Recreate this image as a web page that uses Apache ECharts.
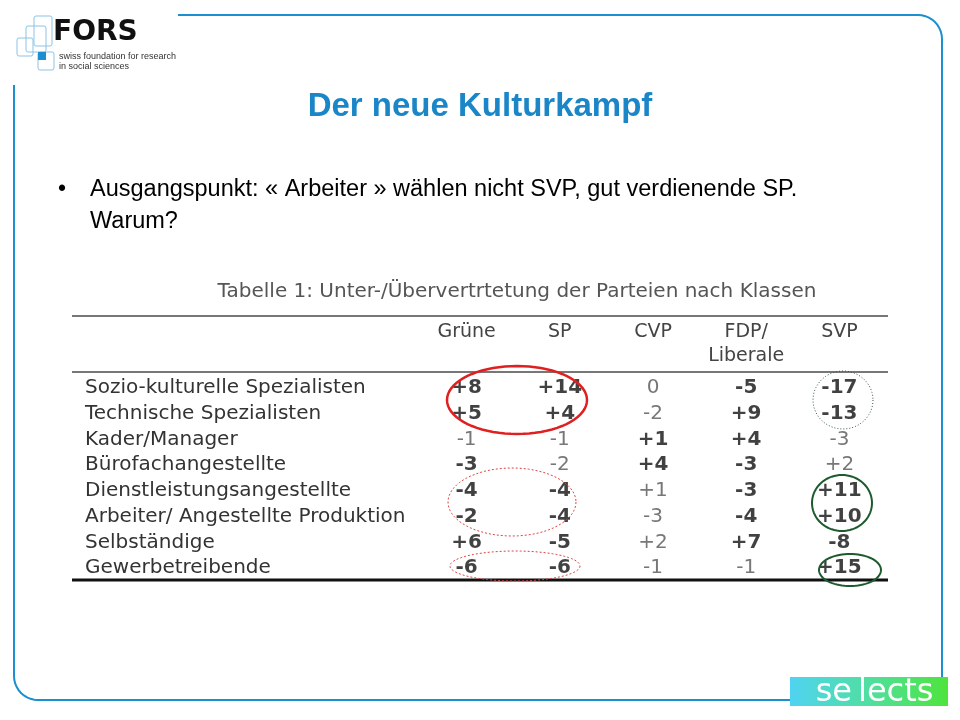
<!DOCTYPE html><html><head><meta charset="utf-8">
<script src="https://cdn.jsdelivr.net/npm/echarts@6/dist/echarts.min.js"></script>
<style>html,body{margin:0;padding:0;background:#fff}#c{width:960px;height:720px}</style></head><body><div id="c"></div>
<script>
const parties = ['Grüne','SP','CVP','FDP/\nLiberale','SVP'];
const classes = ['Sozio-kulturelle Spezialisten','Technische Spezialisten','Kader/Manager','Bürofachangestellte','Dienstleistungsangestellte','Arbeiter/ Angestellte Produktion','Selbständige','Gewerbetreibende'];
const gruene = [8,5,-1,-3,-4,-2,6,-6];
const sp     = [14,4,-1,-2,-4,-4,-5,-6];
const cvp    = [0,-2,1,4,1,-3,2,-1];
const fdp    = [-5,9,4,-3,-3,-4,7,-1];
const svp    = [-17,-13,-3,2,11,10,-8,15];
const boldGruene = [1,1,0,1,1,1,1,1];
const boldSp     = [1,1,0,0,1,1,1,1];
const boldCvp    = [0,0,1,1,0,0,0,0];
const boldFdp    = [1,1,1,1,1,1,1,0];
const boldSvp    = [1,1,0,0,1,1,1,1];
const cols=[gruene,sp,cvp,fdp,svp], bolds=[boldGruene,boldSp,boldCvp,boldFdp,boldSvp];
const data=[];
cols.forEach((c,i)=>c.forEach((v,j)=>data.push({value:[i,j,v],bold:bolds[i][j]})));
const fmt=v=>v>0?'+'+v:String(v);
const chart=echarts.init(document.getElementById('c'));
const F='DejaVu Sans';
function ell(cx,cy,rx,ry,color,dash,w){
  const pts=[];for(let k=0;k<=72;k++){const a=k/72*2*Math.PI;pts.push([cx+rx*Math.cos(a),cy+ry*Math.sin(a)]);}
  return {type:'polyline',shape:{points:pts},style:{fill:null,stroke:color,lineWidth:w||2,lineDash:dash||null},z:10};}
function corner(cx,cy,r,a0,a1){const p=[];for(let k=0;k<=10;k++){const a=a0+(a1-a0)*k/10;p.push([cx+r*Math.cos(a),cy+r*Math.sin(a)]);}return p;}
const bTop=[[178,15]].concat(corner(918,39,24,-Math.PI/2,0),[[942,677]]);
const bBot=[[14,85]].concat(corner(38,676,24,Math.PI,Math.PI/2),[[790,700]]);
chart.setOption({
 animation:false,
 grid:{left:420,right:74,top:375,height:206},
 xAxis:{type:'category',data:parties,position:'top',axisLine:{show:false},axisTick:{show:false},
   axisLabel:{interval:0,fontFamily:F,fontSize:19,color:'#444',verticalAlign:'top',margin:55,lineHeight:24}},
 yAxis:{type:'category',data:classes,inverse:true,axisLine:{show:false},axisTick:{show:false},
   axisLabel:{interval:0,fontFamily:F,fontSize:20,color:'#333',align:'left',margin:335}},
 series:[{type:'scatter',symbolSize:0,data:data.map(d=>({value:d.value,label:{fontWeight:d.bold?'bold':'normal',color:d.bold?'#111':'#555'}})),
   label:{show:true,position:'inside',fontFamily:F,fontSize:20,formatter:p=>fmt(p.value[2])}}],
 graphic:[
  {type:'polyline',shape:{points:bTop},style:{fill:null,stroke:'#1b8fcf',lineWidth:2}},
  {type:'polyline',shape:{points:bBot},style:{fill:null,stroke:'#1b8fcf',lineWidth:2}},
  {type:'text',style:{text:'Der neue Kulturkampf',x:480,y:107,align:'center',verticalAlign:'middle',font:'bold 33px "Liberation Sans", Arial',fill:'#1a86c8'}},
  {type:'text',style:{text:'•',x:58,y:190,verticalAlign:'middle',font:'23px "Liberation Sans"',fill:'#000'}},
  {type:'text',style:{text:'Ausgangspunkt: « Arbeiter » wählen nicht SVP, gut verdienende SP.',x:90,y:190,verticalAlign:'middle',font:'23.5px "Liberation Sans"',fill:'#000'}},
  {type:'text',style:{text:'Warum?',x:90,y:222,verticalAlign:'middle',font:'23.5px "Liberation Sans"',fill:'#000'}},
  {type:'text',style:{text:'Tabelle 1: Unter-/Übervertrtetung der Parteien nach Klassen',x:517,y:292,align:'center',verticalAlign:'middle',font:'20px "DejaVu Sans"',fill:'#555'}},
  {type:'line',shape:{x1:72,y1:316,x2:888,y2:316},style:{stroke:'#777',lineWidth:2}},
  {type:'line',shape:{x1:72,y1:372,x2:888,y2:372},style:{stroke:'#777',lineWidth:2}},
  {type:'line',shape:{x1:72,y1:580,x2:888,y2:580},style:{stroke:'#111',lineWidth:3}},
  ell(517,400,70,34,'#e02020',null,2.5),
  ell(512,502,64,34,'#e04040',[2,2],1),
  ell(515,566,65,15,'#e04040',[2,2],1),
  ell(843,400,30,29,'#335544',[1,2],1),
  ell(842,503,30,28,'#1d5a2e',null,2),
  ell(850,570,31,16,'#1d5a2e',null,2),
  {type:'rect',shape:{x:790,y:677,width:158,height:29},style:{fill:new echarts.graphic.LinearGradient(0,0,1,0,[{offset:0,color:'#4fd3f2'},{offset:0.5,color:'#4fdfa0'},{offset:1,color:'#4ee43c'}])}},
  {type:'text',style:{text:'se',x:852,y:693,align:'right',verticalAlign:'middle',font:'32px "DejaVu Sans"',fill:'#fff'}},
  {type:'text',style:{text:'lects',x:858,y:693,align:'left',verticalAlign:'middle',font:'32px "DejaVu Sans"',fill:'#fff'}},
  {type:'rect',shape:{x:34,y:16,width:18,height:30,r:2},style:{fill:null,stroke:'#8cc3e6',lineWidth:1}},
  {type:'rect',shape:{x:26,y:26,width:20,height:26,r:2},style:{fill:null,stroke:'#8cc3e6',lineWidth:1}},
  {type:'rect',shape:{x:17,y:38,width:16,height:18,r:2},style:{fill:null,stroke:'#8cc3e6',lineWidth:1}},
  {type:'rect',shape:{x:38,y:52,width:16,height:18,r:2},style:{fill:null,stroke:'#8cc3e6',lineWidth:1}},
  {type:'rect',shape:{x:38,y:52,width:8,height:8},style:{fill:'#1b8fcf'}},
  {type:'text',style:{text:'FORS',x:53,y:33,verticalAlign:'middle',font:'bold 28px "DejaVu Sans"',fill:'#111'}},
  {type:'text',style:{text:'swiss foundation for research',x:59,y:57,verticalAlign:'middle',font:'9px "Liberation Sans"',fill:'#333'}},
  {type:'text',style:{text:'in social sciences',x:59,y:67,verticalAlign:'middle',font:'9px "Liberation Sans"',fill:'#333'}}
 ]
});
</script></body></html>
